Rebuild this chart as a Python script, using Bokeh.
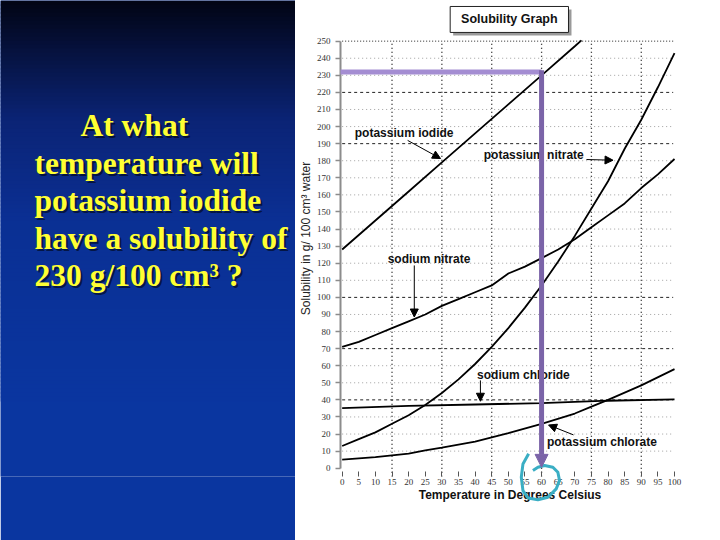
import numpy as np
from bokeh.plotting import figure
from bokeh.layouts import row
from bokeh.models import Arrow, NormalHead, FixedTicker, Range1d
from bokeh.core.properties import value
from bokeh.embed import file_html
from bokeh.resources import INLINE

# ---------------- data ----------------
question_lines = ["At what", "temperature will", "potassium iodide",
                  "have a solubility of", "230 g/100 cm\u00b3 ?"]

temp_ki = [0, 10, 20, 30, 40, 50, 60, 70, 72]
sol_ki = [128, 145, 162, 179, 196, 213, 230, 247, 250.5]

temp_kno3 = [0, 5, 10, 15, 20, 25, 30, 35, 40, 45, 50, 55, 60, 65, 70, 75, 80, 85, 90, 95, 100]
sol_kno3 = [13, 17, 21, 26, 31, 37, 44, 52, 61, 71, 82, 94, 107, 121, 136, 152, 168, 187, 204, 223, 243]

temp_nano3 = [0, 5, 10, 15, 20, 25, 30, 35, 40, 45, 50, 55, 60, 65, 70, 75, 80, 85, 90, 95, 100]
sol_nano3 = [71, 74, 78, 82, 86, 90, 95, 99, 103, 107, 114, 118, 123, 128, 134, 141, 148, 155, 164, 172, 181]

temp_nacl = [0, 20, 40, 60, 80, 100]
sol_nacl = [35.2, 36.5, 37.3, 38.1, 39.5, 40.3]

temp_kclo3 = [0, 10, 20, 25, 30, 40, 45, 50, 60, 70, 75, 80, 90, 100]
sol_kclo3 = [5, 6.5, 8.5, 10.4, 12, 15.5, 18, 20.5, 26, 32, 36, 40, 48.5, 58]

curve_names = ["potassium iodide", "potassium nitrate", "sodium nitrate",
               "sodium chloride", "potassium chlorate"]

x_ticks = list(range(0, 101, 5))
y_ticks = list(range(0, 251, 10))
major_x_grid = [15, 30, 45, 60, 75, 90]
heavy_y_grid = [40, 70, 100, 190, 220]
top_y_grid = [250]
light_y_grid = [v for v in y_ticks[1:] if v not in heavy_y_grid and v not in top_y_grid]

target_solubility = 232
answer_temperature = 60

chart_title = "Solubility Graph"
x_title = "Temperature in Degrees Celsius"
y_title = "Solubility in g/ 100 cm\u00b3 water"

# ---------------- layout ----------------
W_L, W_R, H = 295, 425, 540
BOTTOM = 64

# left panel: data coordinates equal page pixels
left = figure(width=W_L, height=H, x_range=Range1d(0, W_L), y_range=Range1d(H - BOTTOM, 0),
              output_backend="svg", toolbar_location=None, title=None,
              x_axis_type=None, y_axis_type=None,
              min_border_left=0, min_border_right=0, min_border_top=0, min_border_bottom=BOTTOM)
left.grid.visible = False
left.outline_line_color = None

stops_y = [0, 50, 120, 220, 400, 540]
stops_c = np.array([(2, 5, 20), (6, 18, 62), (11, 36, 118), (11, 48, 148),
                    (10, 54, 160), (10, 54, 160)], dtype=float)
bottom_col = "#%02x%02x%02x" % tuple(int(v) for v in stops_c[-1])
left.border_fill_color = bottom_col
left.background_fill_color = bottom_col
strip_top = np.arange(0, 400, 4, dtype=float)
strip_col = []
for t in strip_top:
    c = [int(np.interp(t + 2, stops_y, stops_c[:, k])) for k in range(3)]
    strip_col.append("#%02x%02x%02x" % tuple(c))
left.quad(left=0, right=W_L, top=strip_top, bottom=strip_top + 5,
          fill_color=strip_col, line_color=None)

q_x = [80, 34, 34, 34, 34]
q_base = [125, 162.5, 200, 237.5, 275]
left.text(x=[v + 2 for v in q_x], y=[v + 2 for v in q_base], text=question_lines,
          text_font=value("Liberation Serif"), text_font_style="bold",
          text_font_size="31.5px", text_color="#000000", text_alpha=0.55,
          text_baseline="alphabetic", text_align="left")
left.text(x=q_x, y=q_base, text=question_lines,
          text_font=value("Liberation Serif"), text_font_style="bold",
          text_font_size="31.5px", text_color="#ffff33",
          text_baseline="alphabetic", text_align="left")

# right panel (chart)
p = figure(width=W_R, height=H, x_range=Range1d(-0.5, 101.5), y_range=Range1d(-4.86, 273.8),
           output_backend="svg", toolbar_location=None, title=None,
           min_border_left=43, min_border_right=41, min_border_top=0, min_border_bottom=BOTTOM)
p.outline_line_color = None
p.background_fill_color = "white"
p.border_fill_color = "white"
p.grid.visible = False

p.xaxis.ticker = FixedTicker(ticks=x_ticks)
p.xaxis.axis_line_color = None
p.xaxis.major_tick_in = 5
p.xaxis.major_tick_out = 0
p.xaxis.major_tick_line_color = "#555555"
p.xaxis.minor_tick_line_color = None
p.xaxis.major_label_text_font = "Liberation Serif"
p.xaxis.major_label_text_font_size = "9px"
p.xaxis.major_label_text_color = "#333333"
p.xaxis.major_label_standoff = 2
p.xaxis.axis_label = x_title
p.xaxis.axis_label_text_font = "Liberation Sans"
p.xaxis.axis_label_text_font_style = "bold"
p.xaxis.axis_label_text_font_size = "12px"
p.xaxis.axis_label_text_color = "#111111"
p.xaxis.axis_label_standoff = 0

p.yaxis.ticker = FixedTicker(ticks=y_ticks)
p.yaxis.bounds = (0, 250)
p.yaxis.axis_line_color = "#8c8c8c"
p.yaxis.axis_line_width = 2
p.yaxis.major_tick_out = 5
p.yaxis.major_tick_in = 0
p.yaxis.major_tick_line_color = "#8c8c8c"
p.yaxis.major_tick_line_width = 1.5
p.yaxis.minor_tick_line_color = None
p.yaxis.major_label_text_font = "Liberation Serif"
p.yaxis.major_label_text_font_size = "9px"
p.yaxis.major_label_text_color = "#333333"
p.yaxis.major_label_standoff = 5
p.yaxis.axis_label = y_title
p.yaxis.axis_label_text_font = "Liberation Sans"
p.yaxis.axis_label_text_font_style = "normal"
p.yaxis.axis_label_text_font_size = "12px"
p.yaxis.axis_label_text_color = "#222222"
p.yaxis.axis_label_standoff = 1

# grid lines
p.segment(x0=major_x_grid, x1=major_x_grid, y0=-5, y1=250,
          line_color="#111111", line_dash="1 3", line_width=1.3)
p.segment(x0=0, x1=99.6, y0=light_y_grid, y1=light_y_grid,
          line_color="#a0a0a0", line_dash="1 3", line_width=1)
p.segment(x0=0, x1=99.6, y0=heavy_y_grid, y1=heavy_y_grid,
          line_color="#222222", line_dash="3 3", line_width=1)
p.segment(x0=0, x1=99.6, y0=top_y_grid, y1=top_y_grid,
          line_color="#222222", line_dash="1 2", line_width=1)

# title box
p.quad(left=33.4, right=69.0, top=268.5, bottom=253.3, fill_color="#9a9a9a", line_color=None)
p.quad(left=32.5, right=68.1, top=270.3, bottom=255.1, fill_color="white",
       line_color="#222222", line_width=1)
p.text(x=[50.3], y=[262.7], text=[chart_title], text_font=value("Liberation Sans"),
       text_font_style="bold", text_font_size="12.5px", text_color="#111111",
       text_baseline="middle", text_align="center")

series = [(temp_ki, sol_ki), (temp_kno3, sol_kno3), (temp_nano3, sol_nano3),
          (temp_nacl, sol_nacl), (temp_kclo3, sol_kclo3)]
for tx, sy in series:
    p.line(tx, sy, line_color="black", line_width=1.8)

# curve labels and pointer arrows
label_x = [3.8, 42.6, 13.7, 40.6, 61.6]
label_y = [196, 183.2, 122.7, 54.3, 15.2]
p.text(x=label_x, y=label_y, text=curve_names, text_font=value("Liberation Sans"),
       text_font_style="bold", text_font_size="12px", text_color="#111111",
       text_baseline="middle", text_align="left")
arrows = [((19.7, 191.9), (29.6, 181.3)),
          ((73.5, 180.7), (81.5, 180.3)),
          ((21.7, 118.7), (21.7, 88.5)),
          ((41.6, 51.4), (41.6, 39.2)),
          ((69.6, 19.5), (62.1, 25.3))]
for (x0, y0), (x1, y1) in arrows:
    p.add_layout(Arrow(x_start=x0, y_start=y0, x_end=x1, y_end=y1, line_color="black",
                       line_width=1,
                       end=NormalHead(size=8, fill_color="black", line_color="black")))

# purple guide
hl = p.line([-0.5, answer_temperature], [target_solubility, target_solubility],
            line_color="#a48dd2", line_width=5)
hl.level = "overlay"
va = Arrow(x_start=answer_temperature, y_start=target_solubility + 1,
           x_end=answer_temperature, y_end=0.5, line_color="#7b64a8", line_width=5,
           end=NormalHead(size=13, fill_color="#7b64a8", line_color="#7b64a8"))
va.level = "overlay"
p.add_layout(va)

# cyan hand-drawn loop around the answer
loop_x = [56.1, 54.4, 53.9, 54.4, 55.9, 58.9, 61.9, 64.4, 65.4, 64.9, 63.4, 60.9, 58.9, 57.4]
loop_y = [8.4, 2.5, -5.3, -13.1, -17.4, -18.5, -17.0, -12.1, -7.2, -2.4, 0.6, 1.6, 0.6, -1.3]
lp = p.line(loop_x, loop_y, line_color="#3aaec4", line_width=3, line_join="round")
lp.level = "overlay"

layout = row(left, p)
open("out.html", "w").write(file_html(layout, INLINE))
